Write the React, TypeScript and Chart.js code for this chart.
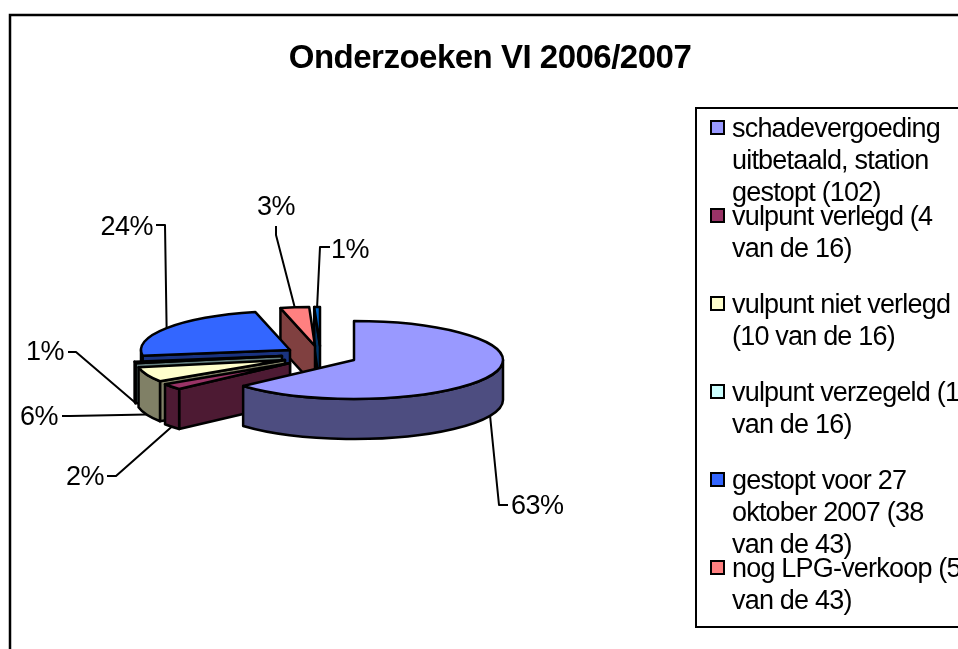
import React, { useEffect, useRef } from "react";
import { Chart, registerables } from "chart.js";

Chart.register(...registerables);

const chartTitle = "Onderzoeken VI 2006/2007";
const categories = [
  "schadevergoeding uitbetaald, station gestopt (102)",
  "vulpunt verlegd (4 van de 16)",
  "vulpunt niet verlegd (10 van de 16)",
  "vulpunt verzegeld (1 van de 16)",
  "gestopt voor 27 oktober 2007 (38 van de 43)",
  "nog LPG-verkoop (5 van de 43)",
  "overig (1)",
];
const values = [102, 4, 10, 1, 38, 5, 1];
const topColors = ["#9999FF", "#993366", "#FFFFCC", "#CCFFFF", "#3366FF", "#FF8080", "#0066CC"];
const wallColors = ["#4D4D80", "#4D1A33", "#808066", "#668080", "#1A3380", "#804040", "#003366"];

// Legend wrapping, one list of lines per shown category
const legendLines = [
  ["schadevergoeding", "uitbetaald, station", "gestopt (102)"],
  ["vulpunt verlegd (4", "van de 16)"],
  ["vulpunt niet verlegd", "(10 van de 16)"],
  ["vulpunt verzegeld (1", "van de 16)"],
  ["gestopt voor 27", "oktober 2007 (38", "van de 43)"],
  ["nog LPG-verkoop (5", "van de 43)"],
];
const legendFirstBaselines = [137, 225, 313, 401, 489, 577];

// Style / layout of the tilted pie
const squash = 39 / 149;
const depth = 40;
const explode = [[0, 0], [-64, 3], [-69, 0], [-72, -4], [-64, -10], [-39, -14], [-34, -14]];
const paintOrder = [6, 5, 4, 3, 2, 1, 0];
// Leader elbow and label anchor for each slice: [elbowX, elbowY, endX, endY, textX, textY, align]
const leaders: [number, number, number, number, number, number, CanvasTextAlign][] = [
  [499, 505, 508, 505, 511, 514, "left"],
  [116, 476, 107, 476, 104, 485, "right"],
  [70, 416, 62, 416, 58, 425, "right"],
  [76, 352, 68, 352, 64, 360, "right"],
  [165, 225, 156, 225, 153, 235, "right"],
  [276, 235, 276, 226, 295, 215, "right"],
  [320, 247, 330, 247, 369, 258, "right"],
];

const FONT = '"Liberation Sans", Arial, sans-serif';

const pie3d = {
  id: "pie3d",
  beforeDraw(chart: any) {
    const { ctx } = chart;
    ctx.save();
    ctx.strokeStyle = "#000";
    ctx.lineWidth = 2.5;
    ctx.strokeRect(10, 15, 1200, 1200);
    ctx.fillStyle = "#000";
    ctx.font = `bold 33px ${FONT}`;
    ctx.letterSpacing = "-0.5px";
    ctx.textAlign = "center";
    ctx.textBaseline = "alphabetic";
    ctx.fillText(chartTitle, 490, 68);
    // legend
    ctx.lineWidth = 2;
    ctx.strokeRect(696, 108, 400, 519);
    ctx.textAlign = "left";
    ctx.font = `27px ${FONT}`;
    ctx.letterSpacing = "-0.8px";
    legendLines.forEach((lines, i) => {
      const b = legendFirstBaselines[i];
      ctx.fillStyle = topColors[i];
      ctx.fillRect(711, b - 16, 13, 13);
      ctx.strokeRect(711, b - 16, 13, 13);
      ctx.fillStyle = "#000";
      lines.forEach((line, k) => ctx.fillText(line, 732, b + k * 32));
    });
    ctx.restore();
  },
  beforeDatasetDraw(chart: any) {
    const { ctx } = chart;
    const arcs = chart.getDatasetMeta(0).data;
    const total = values.reduce((s, v) => s + v, 0);
    ctx.save();
    ctx.lineWidth = 2.5;
    ctx.lineJoin = "round";
    ctx.strokeStyle = "#000";

    const geom = (i: number) => {
      const p = arcs[i].getProps(["x", "y", "startAngle", "endAngle", "outerRadius"], true);
      return {
        cx: p.x + explode[i][0],
        cy: p.y + explode[i][1],
        a: p.startAngle,
        b: p.endAngle,
        r: p.outerRadius,
      };
    };

    paintOrder.forEach((i) => {
      const { cx, cy, a, b, r } = geom(i);
      const ry = r * squash;
      const rim = (t: number) => [cx + r * Math.cos(t), cy + ry * Math.sin(t)];
      const face = (t: number) => {
        const [x, y] = rim(t);
        ctx.beginPath();
        ctx.moveTo(cx, cy);
        ctx.lineTo(x, y);
        ctx.lineTo(x, y + depth);
        ctx.lineTo(cx, cy + depth);
        ctx.closePath();
        ctx.fillStyle = wallColors[i];
        ctx.fill();
        ctx.stroke();
      };
      if (Math.cos(a) < -1e-6) face(a);
      if (Math.cos(b) > 1e-6) face(b);
      const s = Math.max(a, 0);
      const e = Math.min(b, Math.PI);
      if (e > s) {
        ctx.beginPath();
        ctx.ellipse(cx, cy, r, ry, 0, s, e);
        ctx.ellipse(cx, cy + depth, r, ry, 0, e, s, true);
        ctx.closePath();
        ctx.fillStyle = wallColors[i];
        ctx.fill();
        ctx.stroke();
      }
      ctx.beginPath();
      ctx.moveTo(cx, cy);
      ctx.ellipse(cx, cy, r, ry, 0, a, b);
      ctx.closePath();
      ctx.fillStyle = topColors[i];
      ctx.fill();
      ctx.stroke();
    });

    // leader lines and percentage labels
    ctx.font = `27px ${FONT}`;
    ctx.letterSpacing = "-0.5px";
    ctx.textBaseline = "alphabetic";
    values.forEach((v, i) => {
      const { cx, cy, a, b, r } = geom(i);
      const mid = (a + b) / 2;
      const sx = cx + r * Math.cos(mid);
      const sy = cy + r * squash * Math.sin(mid) + (Math.sin(mid) > 0 ? depth : 0);
      const [ex, ey, tx, ty, lx, ly, align] = leaders[i];
      ctx.lineWidth = 2;
      ctx.beginPath();
      ctx.moveTo(sx, sy);
      ctx.lineTo(ex, ey);
      ctx.lineTo(tx, ty);
      ctx.stroke();
      ctx.fillStyle = "#000";
      ctx.textAlign = align;
      ctx.fillText(`${Math.round((v / total) * 100)}%`, lx, ly);
    });
    ctx.restore();
    return false;
  },
};

export default function App() {
  const ref = useRef<HTMLCanvasElement>(null);
  useEffect(() => {
    const chart = new Chart(ref.current as HTMLCanvasElement, {
      type: "pie",
      data: {
        labels: categories,
        datasets: [{ data: values, backgroundColor: topColors, borderColor: "#000", borderWidth: 2 }],
      },
      options: {
        animation: false,
        responsive: false,
        radius: 149,
        layout: { padding: { left: 0, right: 250, top: 71, bottom: 0 } },
        plugins: { legend: { display: false }, title: { display: false }, tooltip: { enabled: false } },
      } as any,
      plugins: [pie3d as any],
    });
    return () => chart.destroy();
  }, []);
  return (
    <canvas
      ref={ref}
      width={958}
      height={649}
      style={{ position: "fixed", left: 0, top: 0, display: "block", background: "#fff" }}
    />
  );
}
